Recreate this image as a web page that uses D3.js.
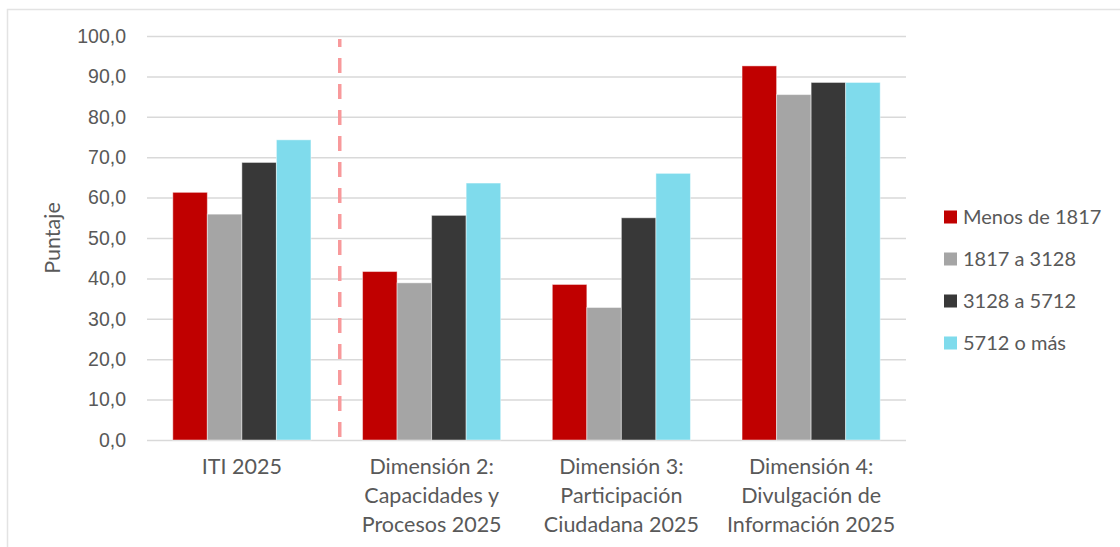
<!DOCTYPE html>
<html>
<head>
<meta charset="utf-8">
<script src="https://cdn.jsdelivr.net/npm/d3@7"></script>
<style>
    body { margin: 0; background: #fff; }
    svg { display: block; font-family: Lato, "Open Sans", sans-serif; }
    .tick text { fill: #595959; font-size: 19.5px; }
</style>
</head>
<body>
<div id="chart"></div>
<script>
const categories = [
    ["ITI 2025"],
    ["Dimensión 2:", "Capacidades y", "Procesos 2025"],
    ["Dimensión 3:", "Participación", "Ciudadana 2025"],
    ["Dimensión 4:", "Divulgación de", "Información 2025"]
];
const series = ["Menos de 1817", "1817 a 3128", "3128 a 5712", "5712 o más"];
const colors = ["#c00000", "#a5a5a5", "#383838", "#7fdbec"];
const values = [
    [61.3, 41.7, 38.5, 92.6],
    [55.9, 38.9, 32.8, 85.5],
    [68.7, 55.6, 55.0, 88.5],
    [74.3, 63.6, 66.0, 88.5]
];
const yTicks = [0, 10, 20, 30, 40, 50, 60, 70, 80, 90, 100];

const margin = { top: 36, left: 147, bottom: 107, right: 214 };
const W = 1120, H = 547;
const width = W - margin.left - margin.right;
const height = H - margin.top - margin.bottom;

const svg = d3.select("#chart").append("svg")
    .attr("width", W)
    .attr("height", H);

// light frame like the exported chart area
svg.append("rect")
    .attr("x", 7.5).attr("y", 9.5)
    .attr("width", W).attr("height", H)
    .attr("fill", "none")
    .attr("stroke", "#e3e3e3")
    .attr("stroke-width", 1.5);

const group = svg.append("g")
    .attr("transform", "translate(" + margin.left + "," + margin.top + ")");

const catKeys = categories.map((c, i) => i);

const x0 = d3.scaleBand()
    .domain(catKeys)
    .range([0, width]);

const gap = x0.bandwidth() * 0.136;
const x1 = d3.scaleBand()
    .domain(series)
    .range([gap, x0.bandwidth() - gap]);

const y = d3.scaleLinear()
    .domain([0, 100])
    .range([height, 0]);

// gridlines + y labels
const yAxis = group.append("g")
    .call(d3.axisLeft(y)
        .tickValues(yTicks)
        .tickSize(-width)
        .tickPadding(21)
        .tickFormat(d => d3.format(".1f")(d).replace(".", ",")));
yAxis.select(".domain").remove();
yAxis.selectAll(".tick line")
    .attr("stroke", "#d9d9d9")
    .attr("stroke-width", 1.5);

// bars
const cats = group.selectAll(".cat")
    .data(catKeys)
    .enter().append("g")
    .attr("transform", d => "translate(" + x0(d) + ",0)");

cats.selectAll("rect")
    .data(ci => series.map((s, si) => ({ s, si, v: values[si][ci] })))
    .enter().append("rect")
    .attr("x", d => x1(d.s))
    .attr("y", d => y(d.v))
    .attr("width", x1.bandwidth())
    .attr("height", d => y(0) - y(d.v))
    .attr("fill", d => colors[d.si])
    .attr("stroke", "#ffffff")
    .attr("stroke-opacity", 0.45)
    .attr("stroke-width", 1);

// dashed separator between ITI and the dimensions
const sepX = x0(1) + 3;
group.append("line")
    .attr("x1", sepX).attr("x2", sepX)
    .attr("y1", y(100) + 3)
    .attr("y2", y(0))
    .attr("stroke", "#f8999b")
    .attr("stroke-width", 3.5)
    .attr("stroke-dasharray", "15,11")
    .attr("stroke-dashoffset", 7);

// category labels
const labels = group.selectAll(".xlabel")
    .data(categories)
    .enter().append("text")
    .attr("class", "xlabel")
    .attr("text-anchor", "middle")
    .attr("fill", "#595959")
    .attr("font-size", "21.5px")
    .attr("transform", (d, i) => "translate(" + (x0(i) + x0.bandwidth() / 2) + "," + (height + 34) + ")");

labels.selectAll("tspan")
    .data(d => d)
    .enter().append("tspan")
    .attr("x", 0)
    .attr("y", (d, i) => i * 29)
    .text(d => d);

// y axis title
svg.append("text")
    .attr("transform", "translate(60," + (margin.top + height / 2) + ") rotate(-90)")
    .attr("text-anchor", "middle")
    .attr("fill", "#595959")
    .attr("font-size", "21.5px")
    .text("Puntaje");

// legend
const legend = svg.append("g")
    .attr("transform", "translate(944,217)");

const items = legend.selectAll(".item")
    .data(series)
    .enter().append("g")
    .attr("transform", (d, i) => "translate(0," + (i * 42) + ")");

items.append("rect")
    .attr("x", 0)
    .attr("y", -6.5)
    .attr("width", 13)
    .attr("height", 13)
    .attr("fill", (d, i) => colors[i]);

items.append("text")
    .attr("x", 19)
    .attr("dy", "0.35em")
    .attr("fill", "#595959")
    .attr("font-size", "20px")
    .text(d => d);
</script>
</body>
</html>
